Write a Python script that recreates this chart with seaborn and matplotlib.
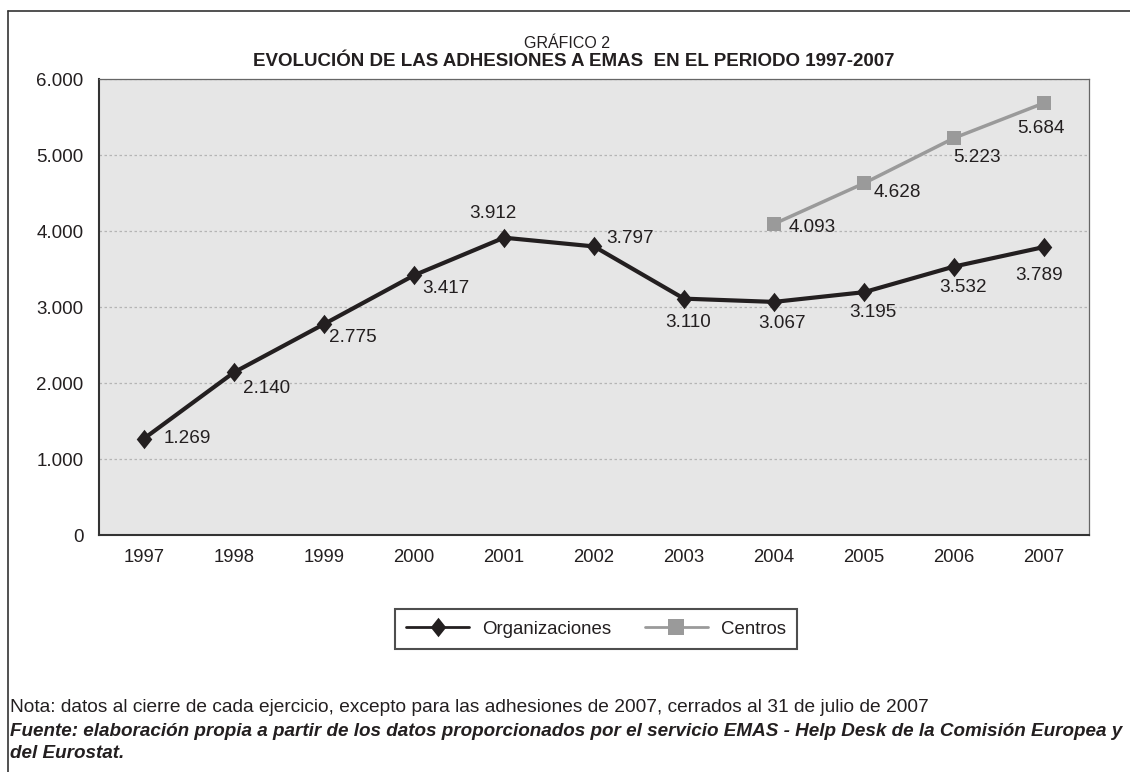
import matplotlib
matplotlib.use("Agg")
import matplotlib.pyplot as plt
from matplotlib.lines import Line2D
import seaborn as sns
import pandas as pd

# datos
years = [1997, 1998, 1999, 2000, 2001, 2002, 2003, 2004, 2005, 2006, 2007]
organizaciones = [1269, 2140, 2775, 3417, 3912, 3797, 3110, 3067, 3195, 3532, 3789]
centros_years = [2004, 2005, 2006, 2007]
centros = [4093, 4628, 5223, 5684]
y_ticks = [0, 1000, 2000, 3000, 4000, 5000, 6000]

# posicion de las etiquetas (pixeles respecto al punto)
org_offsets = [(20, 0, 'left'), (9, -16, 'left'), (5, -13, 'left'), (8, -13, 'left'),
               (-11, 24, 'center'), (12, 8, 'left'), (4, -24, 'center'),
               (8, -22, 'center'), (9, -20, 'center'), (9, -21, 'center'), (-5, -28, 'center')]
cen_offsets = [(15, -4, 'left'), (10, -9, 'left'), (23, -19, 'center'), (-3, -25, 'center')]

dark = '#231f20'
grey = '#9a9a9a'
diamond = [(0, 1), (0.8, 0), (0, -1), (-0.8, 0), (0, 1)]

sns.set_style("white")
plt.rcParams['font.family'] = ['Liberation Sans', 'DejaVu Sans']
plt.rcParams['text.color'] = dark

df = pd.concat([
    pd.DataFrame({'year': years, 'valor': organizaciones, 'serie': 'Organizaciones'}),
    pd.DataFrame({'year': centros_years, 'valor': centros, 'serie': 'Centros'}),
])

fig = plt.figure(figsize=(11.3, 7.72), dpi=100)
ax = fig.add_axes([99 / 1130, 1 - 535 / 772, 990 / 1130, 456 / 772])
ax.set_facecolor('#e6e6e6')

sns.lineplot(data=df, x='year', y='valor', hue='serie', style='serie',
             palette={'Organizaciones': dark, 'Centros': grey},
             markers={'Organizaciones': diamond, 'Centros': 's'},
             dashes=False, linewidth=3, markersize=10, markeredgewidth=0,
             ax=ax, legend=False)
for line in ax.lines:
    if line.get_color() == grey:
        line.set_linewidth(2.5)
        line.set_markersize(10.5)
    else:
        line.set_markersize(14)

for x, v, (dx, dy, ha) in zip(years, organizaciones, org_offsets):
    ax.annotate(f"{v:,}".replace(',', '.'), (x, v), xytext=(dx, dy),
                textcoords='offset pixels', ha=ha, va='center', fontsize=13.6, color=dark)
for x, v, (dx, dy, ha) in zip(centros_years, centros, cen_offsets):
    ax.annotate(f"{v:,}".replace(',', '.'), (x, v), xytext=(dx, dy),
                textcoords='offset pixels', ha=ha, va='center', fontsize=13.6, color=dark)

ax.set_xlim(years[0] - 0.5, years[-1] + 0.5)
ax.set_ylim(0, 6000)
ax.set_yticks(y_ticks)
ax.set_yticklabels([f"{t:,}".replace(',', '.') for t in y_ticks])
ax.set_xticks(years)
ax.set_xticklabels([str(y) for y in years])
ax.set_xticks([y + 0.5 for y in [years[0] - 1] + years], minor=True)
ax.tick_params(axis='x', which='major', length=0, pad=10, labelsize=13.3, labelcolor=dark)
ax.tick_params(axis='x', which='minor', length=6, width=1.3, color='#333333', direction='out')
ax.tick_params(axis='y', length=6, width=1.3, color='#333333', direction='out', pad=5,
               labelsize=13.5, labelcolor=dark)
ax.yaxis.grid(True, color='#b5b5b5', linestyle=(0, (2, 2)), linewidth=0.9)
ax.set_axisbelow(True)
ax.set_xlabel('')
ax.set_ylabel('')
for side in ['left', 'bottom']:
    ax.spines[side].set_color('#333333')
    ax.spines[side].set_linewidth(1.5)
for side in ['top', 'right']:
    ax.spines[side].set_color('#666666')
    ax.spines[side].set_linewidth(0.9)

handles = [Line2D([], [], color=dark, lw=2, marker=diamond, markersize=14, markeredgewidth=0),
           Line2D([], [], color=grey, lw=2, marker='s', markersize=11, markeredgewidth=0)]
leg = fig.legend(handles, ['Organizaciones', 'Centros'], loc='center',
                 bbox_to_anchor=(596 / 1130, 1 - 629 / 772), ncol=2, frameon=True,
                 fancybox=False, fontsize=13.4, handlelength=3.4, columnspacing=1.8,
                 borderpad=0.6, handletextpad=0.7)
leg.get_frame().set_edgecolor('#222222')
leg.get_frame().set_linewidth(1.5)

fig.text(567 / 1130, 1 - 43 / 772, 'GRÁFICO 2', ha='center', va='center', fontsize=11.5)
fig.text(574 / 1130, 1 - 62 / 772, 'EVOLUCIÓN DE LAS ADHESIONES A EMAS  EN EL PERIODO 1997-2007',
         ha='center', va='center', fontsize=13.5, fontweight='bold')

fig.text(10 / 1130, 1 - 708 / 772,
         'Nota: datos al cierre de cada ejercicio, excepto para las adhesiones de 2007, cerrados al 31 de julio de 2007',
         ha='left', va='center', fontsize=13.8)
fig.text(10 / 1130, 1 - 731 / 772,
         'Fuente: elaboración propia a partir de los datos proporcionados por el servicio EMAS - Help Desk de la Comisión Europea y',
         ha='left', va='center', fontsize=13.6, fontweight='bold', fontstyle='italic')
fig.text(10 / 1130, 1 - 753 / 772, 'del Eurostat.',
         ha='left', va='center', fontsize=13.6, fontweight='bold', fontstyle='italic')

# marco exterior
fig.add_artist(Line2D([8 / 1130, 1], [1 - 11 / 772] * 2, transform=fig.transFigure,
                      color='#333333', lw=1.2))
fig.add_artist(Line2D([8 / 1130] * 2, [0, 1 - 11 / 772], transform=fig.transFigure,
                      color='#333333', lw=1.2))

fig.savefig('out.png', dpi=100)
